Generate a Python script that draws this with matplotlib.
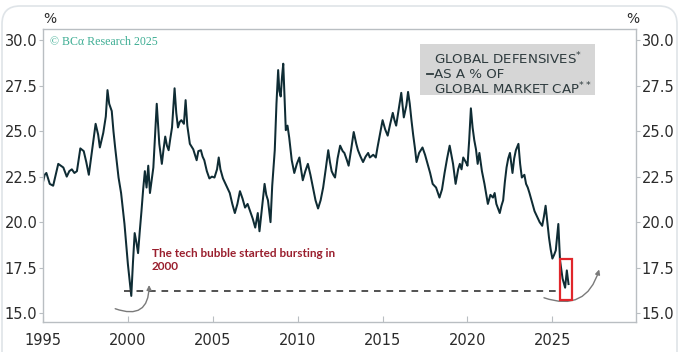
import numpy as np
import matplotlib
matplotlib.use("Agg")
import matplotlib.pyplot as plt
from matplotlib.patches import Rectangle, FancyBboxPatch
from matplotlib.ticker import FormatStrFormatter
from matplotlib.transforms import IdentityTransform

# traced series: global defensives as % of global market cap
years = [1995.0, 1995.1, 1995.2, 1995.4, 1995.6, 1995.75, 1995.9, 1996.05, 1996.2, 1996.4,
         1996.55, 1996.7, 1996.85, 1997.0, 1997.2, 1997.4, 1997.55, 1997.7, 1997.9, 1998.1,
         1998.25, 1998.35, 1998.55, 1998.7, 1998.8, 1998.9, 1999.05, 1999.15, 1999.25, 1999.45,
         1999.6, 1999.8, 2000.0, 2000.1, 2000.2, 2000.3, 2000.4, 2000.5, 2000.6, 2000.7,
         2000.8, 2000.9, 2001.0, 2001.1, 2001.2, 2001.3, 2001.5, 2001.6, 2001.7, 2001.85,
         2002.0, 2002.1, 2002.2, 2002.3, 2002.4, 2002.5, 2002.6, 2002.75, 2002.85, 2002.95,
         2003.05, 2003.15, 2003.3, 2003.4, 2003.5, 2003.65, 2003.85, 2004.05, 2004.15, 2004.3,
         2004.4, 2004.5, 2004.65, 2004.8, 2004.95, 2005.1, 2005.25, 2005.35, 2005.45, 2005.6,
         2005.8, 2006.0, 2006.15, 2006.3, 2006.45, 2006.6, 2006.75, 2006.9, 2007.05, 2007.2,
         2007.35, 2007.5, 2007.65, 2007.75, 2007.9, 2008.05, 2008.15, 2008.25, 2008.4, 2008.5,
         2008.65, 2008.75, 2008.85, 2008.92, 2009.0, 2009.08, 2009.15, 2009.22, 2009.3, 2009.4,
         2009.5, 2009.65, 2009.8, 2009.95, 2010.1, 2010.2, 2010.3, 2010.45, 2010.6, 2010.75,
         2010.9, 2011.05, 2011.2, 2011.35, 2011.5, 2011.65, 2011.8, 2011.9, 2012.0, 2012.1,
         2012.2, 2012.35, 2012.5, 2012.65, 2012.75, 2012.9, 2013.0, 2013.15, 2013.3, 2013.45,
         2013.55, 2013.7, 2013.85, 2014.0, 2014.15, 2014.25, 2014.45, 2014.6, 2014.7, 2014.8,
         2014.9, 2015.0, 2015.15, 2015.3, 2015.45, 2015.6, 2015.7, 2015.8, 2015.95, 2016.1,
         2016.2, 2016.25, 2016.4, 2016.5, 2016.6, 2016.7, 2016.8, 2016.9, 2017.0, 2017.15,
         2017.35, 2017.5, 2017.65, 2017.8, 2017.95, 2018.15, 2018.35, 2018.5, 2018.65, 2018.8,
         2018.95, 2019.05, 2019.15, 2019.3, 2019.45, 2019.55, 2019.65, 2019.75, 2019.9, 2020.0,
         2020.1, 2020.2, 2020.3, 2020.4, 2020.5, 2020.6, 2020.7, 2020.85, 2021.0, 2021.2,
         2021.35, 2021.5, 2021.6, 2021.7, 2021.9, 2022.0, 2022.1, 2022.2, 2022.3, 2022.4,
         2022.5, 2022.65, 2022.75, 2022.85, 2023.0, 2023.1, 2023.2, 2023.35, 2023.45, 2023.55,
         2023.65, 2023.8, 2023.95, 2024.1, 2024.25, 2024.4, 2024.5, 2024.6, 2024.7, 2024.8,
         2024.9, 2025.0, 2025.1, 2025.2, 2025.28, 2025.35, 2025.4, 2025.45, 2025.6, 2025.75,
         2025.85, 2025.95]
share = [22.2, 22.6, 22.7, 22.1, 22.0, 22.6, 23.2, 23.1, 23.0, 22.5,
         22.8, 22.9, 22.7, 22.8, 24.05, 23.9, 23.3, 22.6, 24.0, 25.4,
         24.8, 24.1, 24.9, 25.8, 27.25, 26.5, 26.1, 25.0, 24.1, 22.45,
         21.6, 19.9, 17.7, 16.8, 15.95, 17.8, 19.4, 18.9, 18.3, 19.5,
         20.6, 21.8, 22.8, 21.9, 23.1, 21.6, 23.0, 24.8, 26.5, 24.3,
         23.2, 24.0, 24.7, 24.2, 23.95, 24.6, 25.2, 27.35, 26.0, 25.2,
         25.5, 25.6, 25.4, 26.7, 25.3, 24.3, 24.0, 23.4, 23.9, 23.95,
         23.6, 23.4, 22.8, 22.4, 22.5, 22.45, 22.9, 23.55, 22.9, 22.4,
         22.0, 21.6, 21.0, 20.5, 21.0, 21.7, 21.3, 20.8, 21.0, 20.6,
         20.2, 19.7, 20.5, 19.5, 20.8, 22.1, 21.5, 21.2, 20.0, 22.0,
         23.95, 26.5, 28.35, 27.2, 26.9, 28.0, 28.7, 27.0, 25.05, 25.3,
         24.65, 23.4, 22.7, 23.2, 23.55, 22.9, 22.3, 22.8, 23.2, 22.6,
         21.9, 21.2, 20.75, 21.2, 21.9, 22.9, 23.95, 23.3, 22.8, 22.6,
         22.45, 23.5, 24.2, 23.9, 23.8, 23.4, 23.1, 24.0, 24.95, 24.3,
         23.95, 23.6, 23.3, 23.6, 23.8, 23.55, 23.7, 23.55, 24.1, 24.6,
         25.1, 25.6, 25.1, 24.75, 25.4, 26.0, 25.6, 25.3, 26.2, 27.1,
         26.2, 25.75, 26.4, 27.15, 26.5, 25.6, 24.8, 24.1, 23.3, 23.8,
         24.1, 23.7, 23.2, 22.7, 22.1, 21.9, 21.35, 21.8, 22.7, 23.5,
         24.2, 23.7, 23.2, 22.1, 22.9, 23.2, 22.9, 23.55, 23.3, 23.1,
         24.5, 26.25, 25.2, 24.5, 24.0, 23.2, 23.8, 22.8, 22.1, 21.0,
         21.5, 21.35, 21.6, 21.0, 20.5, 20.9, 21.2, 22.2, 23.0, 23.5,
         23.8, 22.7, 23.5, 23.95, 24.3, 23.2, 22.45, 22.6, 22.1, 21.9,
         21.6, 21.1, 20.6, 20.3, 20.0, 19.8, 20.3, 20.9, 20.0, 19.15,
         18.5, 18.0, 18.2, 18.45, 19.2, 19.9, 18.9, 17.9, 16.9, 16.4,
         17.35, 16.6]

low_2000 = 16.2
box_x = [2025.45, 2026.15]
box_y = [15.7, 18.0]
yticks = [15.0, 17.5, 20.0, 22.5, 25.0, 27.5, 30.0]
xticks = [1995, 2000, 2005, 2010, 2015, 2020, 2025]

line_col = "#0f2c34"
spine_col = "#b9bec2"
text_col = "#2b2b2b"
legend_col = "#2e3b3e"

fig = plt.figure(figsize=(6.8, 3.52), dpi=100)
ax = fig.add_axes([0.0632, 0.0864, 0.872, 0.8304])

ax.plot(years, share, color=line_col, lw=1.45)
ax.plot([1999.8, 2025.4], [low_2000, low_2000], color="#333333", lw=1.2, ls=(0, (4, 3.5)))
ax.add_patch(Rectangle((box_x[0], box_y[0]), box_x[1] - box_x[0], box_y[1] - box_y[0],
                       fill=False, edgecolor="#e0262b", lw=1.6, zorder=5))

# curved arrows
ax.annotate("", xy=(2001.25, 16.7), xytext=(1999.1, 15.3),
            arrowprops=dict(arrowstyle="-|>", color="#7a7a7a", lw=1.0, mutation_scale=7,
                            connectionstyle="arc3,rad=0.75"))
ax.annotate("", xy=(2027.8, 17.55), xytext=(2024.35, 15.9),
            arrowprops=dict(arrowstyle="-|>", color="#7a7a7a", lw=1.0, mutation_scale=7,
                            connectionstyle="arc3,rad=0.55"))

ax.text(2001.42, 17.9, "The tech bubble started bursting in\n2000", color="#9a1f2e",
        fontsize=8.5, fontweight="bold", family="Lato", va="center", linespacing=1.2)

ax.text(0.012, 0.956, "© BCα Research 2025", transform=ax.transAxes, color="#3fae94",
        fontsize=8.6, family=["Liberation Serif", "DejaVu Serif"], va="center")

# legend box
ax.add_patch(Rectangle((0.635, 0.775), 0.296, 0.175, transform=ax.transAxes,
                       facecolor="#d6d6d6", edgecolor="none", zorder=4))
ax.text(0.660, 0.899, "GLOBAL DEFENSIVES$^{*}$", transform=ax.transAxes, fontsize=9.6,
        color=legend_col, family="DejaVu Sans", va="center", zorder=6)
ax.text(0.660, 0.846, "AS A % OF", transform=ax.transAxes, fontsize=9.6,
        color=legend_col, family="DejaVu Sans", va="center", zorder=6)
ax.text(0.660, 0.797, "GLOBAL MARKET CAP$^{**}$", transform=ax.transAxes, fontsize=9.6,
        color=legend_col, family="DejaVu Sans", va="center", zorder=6)
ax.plot([0.647, 0.658], [0.846, 0.846], transform=ax.transAxes, color=legend_col, lw=1.3, zorder=6)

ax.set_xlim(1995, 2029.92)
ax.set_ylim(14.54, 30.59)
ax.set_xticks(xticks)
ax.set_yticks(yticks)
ax.yaxis.set_major_formatter(FormatStrFormatter("%.1f"))

for s in ax.spines.values():
    s.set_color(spine_col)
    s.set_linewidth(1.0)

ax.tick_params(axis="y", which="both", left=True, right=True, labelleft=True, labelright=True,
               direction="out", length=3, color=spine_col, labelsize=10.5, labelcolor=text_col,
               pad=1)
ax.tick_params(axis="x", direction="in", length=4, color=spine_col, labelsize=10.5,
               labelcolor=text_col, pad=8)
for lab in ax.get_xticklabels() + ax.get_yticklabels():
    lab.set_family("DejaVu Sans")

fig.text(43 / 680, 1 - 19 / 352, "%", fontsize=10, color=text_col, va="center")
fig.text(626 / 680, 1 - 19 / 352, "%", fontsize=10, color=text_col, va="center")

# card border
fig.patches.append(FancyBboxPatch((2, -40), 675, 386, boxstyle="round,pad=0,rounding_size=18",
                                  transform=IdentityTransform(), fill=False,
                                  edgecolor="#dfe4e8", lw=1.2))

fig.savefig("out.png", dpi=100)
